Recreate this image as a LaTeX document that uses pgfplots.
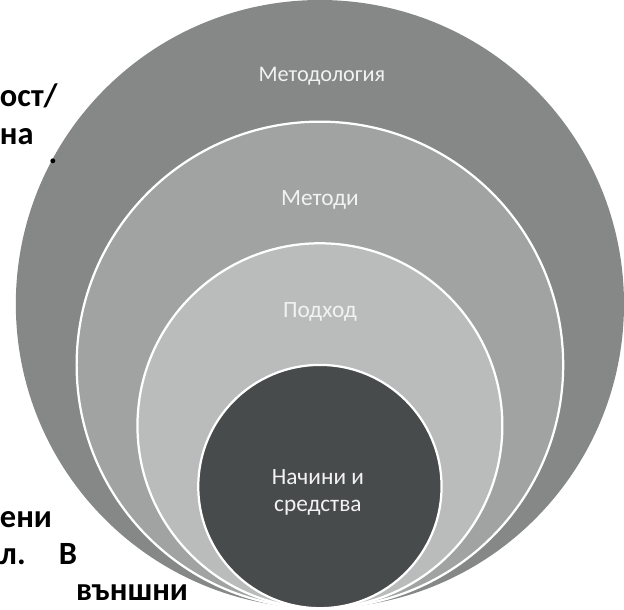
\documentclass[border=0pt]{standalone}
\usepackage{fontspec}
\setmainfont{Carlito}
\usepackage{pgfplots}
\pgfplotsset{compat=1.18}
\definecolor{cOuter}{RGB}{134,136,136}
\definecolor{cMet}{RGB}{161,163,163}
\definecolor{cPod}{RGB}{186,188,188}
\definecolor{cIn}{RGB}{72,75,76}
\definecolor{cTxt}{RGB}{242,242,242}
\begin{document}
\begin{tikzpicture}
\begin{axis}[hide axis, scale only axis, width=312pt, height=304.5pt,
  xmin=0, xmax=624, ymin=0, ymax=609, clip=false]
% nested circles (centre x, centre y, radius), all touching at the bottom
\fill[cOuter] (axis cs:316,304) circle[radius=300];
\fill[cMet, draw=white, line width=1.1pt] (axis cs:316,244) circle[radius=240];
\fill[cPod, draw=white, line width=1.1pt] (axis cs:316,184) circle[radius=180];
\fill[cIn, draw=white, line width=1.1pt] (axis cs:316,124) circle[radius=120];
% labels
\node[anchor=base, text=cTxt, font=\fontsize{11}{13}\selectfont] at (axis cs:318,524) {Методология};
\node[anchor=base, text=cTxt, font=\fontsize{11.5}{14}\selectfont] at (axis cs:316,401) {Методи};
\node[anchor=base, text=cTxt, font=\fontsize{11.5}{14}\selectfont] at (axis cs:316,291) {Подход};
\node[anchor=base, text=cTxt, font=\fontsize{11.5}{14}\selectfont] at (axis cs:314,126) {Начини и};
\node[anchor=base, text=cTxt, font=\fontsize{11.5}{14}\selectfont] at (axis cs:314,99) {средства};
% partial paragraph text on the left
\node[anchor=base west, inner sep=0pt, font=\fontsize{16}{19}\selectfont\bfseries] at (axis cs:0,499) {ост/};
\node[anchor=base west, inner sep=0pt, font=\fontsize{16}{19}\selectfont\bfseries] at (axis cs:0,461) {на};
\node[anchor=base west, inner sep=0pt, font=\fontsize{16}{19}\selectfont\bfseries] at (axis cs:48,443) {.};
\node[anchor=base west, inner sep=0pt, font=\fontsize{16}{19}\selectfont\bfseries] at (axis cs:0,84) {ени};
\node[anchor=base west, inner sep=0pt, font=\fontsize{16}{19}\selectfont\bfseries] at (axis cs:0,47) {л.};
\node[anchor=base west, inner sep=0pt, font=\fontsize{16}{19}\selectfont\bfseries] at (axis cs:58,47) {В};
\node[anchor=base west, inner sep=0pt, font=\fontsize{16}{19}\selectfont\bfseries] at (axis cs:75,12) {външни};
\end{axis}
\end{tikzpicture}
\end{document}
